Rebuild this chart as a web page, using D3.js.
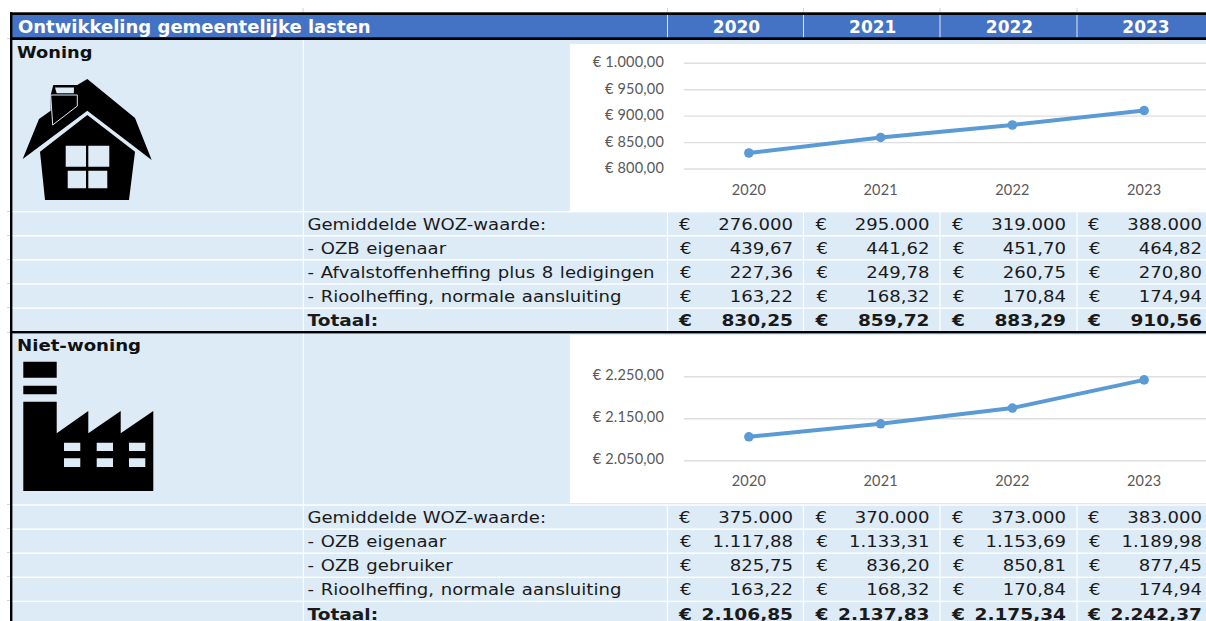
<!DOCTYPE html>
<html>
<head>
<meta charset="utf-8">
<script src="https://cdn.jsdelivr.net/npm/d3@7"></script>
<style>
html, body { margin: 0; padding: 0; background: #fff; overflow: hidden; }
svg { display: block; }
text { font-family: "DejaVu Sans", sans-serif; }
.chart-label { font-family: Lato, sans-serif; font-size: 14.5px; letter-spacing: 0.2px; fill: #595959; }
</style>
</head>
<body>
<svg id="sheet" width="1206" height="621"></svg>
<script>
var years = ['2020', '2021', '2022', '2023'];
var title = 'Ontwikkeling gemeentelijke lasten';

var woning_labels = ['Gemiddelde WOZ-waarde:', '- OZB eigenaar', '- Afvalstoffenheffing plus 8 ledigingen', '- Rioolheffing, normale aansluiting', 'Totaal:'];
var woning_rows = [
    ['276.000', '295.000', '319.000', '388.000'],
    ['439,67', '441,62', '451,70', '464,82'],
    ['227,36', '249,78', '260,75', '270,80'],
    ['163,22', '168,32', '170,84', '174,94'],
    ['830,25', '859,72', '883,29', '910,56']
];
var woning_totals = [830.25, 859.72, 883.29, 910.56];
var woning_ticks = [800, 850, 900, 950, 1000];

var niet_labels = ['Gemiddelde WOZ-waarde:', '- OZB eigenaar', '- OZB gebruiker', '- Rioolheffing, normale aansluiting', 'Totaal:'];
var niet_rows = [
    ['375.000', '370.000', '373.000', '383.000'],
    ['1.117,88', '1.133,31', '1.153,69', '1.189,98'],
    ['825,75', '836,20', '850,81', '877,45'],
    ['163,22', '168,32', '170,84', '174,94'],
    ['2.106,85', '2.137,83', '2.175,34', '2.242,37']
];
var niet_totals = [2106.85, 2137.83, 2175.34, 2242.37];
var niet_ticks = [2050, 2150, 2250];

const svg = d3.select('#sheet');
const blue = '#4472c4';
const pale = '#ddebf7';
const col_lines = [667.5, 803.5, 940, 1077];
const col_right = [793, 929.5, 1066, 1202];
const euro_x = [679, 815.5, 952, 1088];

function rect(x, y, w, h, fill) {
    return svg.append('rect').attr('x', x).attr('y', y).attr('width', w).attr('height', h).attr('fill', fill);
}

// dejavu is narrower than the sheet's font, so stretch the text sideways
function wideText(str, x, y, stretch, size, weight, fill) {
    return svg.append('text').text(str)
        .attr('transform', 'translate(' + x + ',' + y + ') scale(' + stretch + ',1)')
        .attr('font-size', size).attr('font-weight', weight).attr('fill', fill);
}

function nl(v) {
    // 1000 -> 1.000,00
    return '€ ' + d3.format(',.2f')(v).replace(/,/g, '#').replace('.', ',').replace(/#/g, '.');
}

// sheet background
rect(12, 15, 1194, 606, pale);

// stray excel gridline stubs outside the table
[235, 259, 283, 307, 211, 332, 504, 528, 552, 576, 600, 38].forEach(function (y) {
    rect(7, y, 4, 1, '#d4d4d4');
});
[303].concat(col_lines).forEach(function (x) {
    rect(x - 0.5, 8, 1, 5, '#d4d4d4');
});

// header
rect(12, 15, 1194, 23, blue);
wideText(title, 18, 33, 1.06, 17, 700, '#fff');
years.forEach(function (y, i) {
    svg.append('text').text(y)
        .attr('x', (col_lines[i] + (col_lines[i + 1] || 1213)) / 2 + 1).attr('y', 33)
        .attr('text-anchor', 'middle')
        .attr('font-size', 17).attr('font-weight', 700).attr('fill', '#fff');
    rect(col_lines[i] - 0.5, 15, 1, 23, '#dfe7f5');
});

function drawChart(top, bottom, domain, y_range, ticks, totals, tick_y, label_dy) {
    rect(569, top, 640, bottom - top, '#fff');
    rect(569, bottom, 640, 1, '#e3e6ea');
    rect(569, top, 1, bottom - top, '#e9ecef');

    var x = d3.scaleBand().domain(years).range([683, 1210]);
    var y = d3.scaleLinear().domain(domain).range(y_range);

    var ya = svg.append('g').call(d3.axisLeft(y).tickValues(ticks).tickFormat(nl).tickSize(0).tickPadding(19))
        .attr('transform', 'translate(683,' + label_dy + ')');
    ya.select('.domain').remove();
    ya.selectAll('text').attr('class', 'chart-label').attr('fill', null);

    svg.selectAll(null).data(ticks).enter().append('line')
        .attr('x1', 684).attr('x2', 1206)
        .attr('y1', function (d) { return y(d); })
        .attr('y2', function (d) { return y(d); })
        .attr('stroke', '#dedede').attr('stroke-width', 1.4);

    var xa = svg.append('g').call(d3.axisBottom(x).tickSize(0).tickPadding(0))
        .attr('transform', 'translate(0,' + tick_y + ')');
    xa.select('.domain').remove();
    xa.selectAll('text').attr('class', 'chart-label').attr('fill', null);

    var pts = years.map(function (yr, i) { return [x(yr) + x.bandwidth() / 2, y(totals[i])]; });
    svg.append('path')
        .attr('d', d3.line()(pts))
        .attr('fill', 'none').attr('stroke', '#5b9bd5').attr('stroke-width', 4).attr('stroke-linecap', 'round');
    svg.selectAll(null).data(pts).enter().append('circle')
        .attr('cx', function (d) { return d[0]; })
        .attr('cy', function (d) { return d[1]; })
        .attr('r', 4.8).attr('fill', '#5b9bd5');
}

function drawRows(top, labels, rows) {
    var row_h = 24.1;
    rect(12, top, 1194, 1.4, '#fff');
    labels.forEach(function (lab, r) {
        var y = top + r * row_h;
        var is_total = r == labels.length - 1;
        var bold = is_total ? 700 : 400;
        var stretch = is_total ? 1.16 : 1.13;
        if (r > 0) rect(12, y, 1194, 1.4, '#fff');
        wideText(lab, 307.5, y + 18.8, stretch, 16, bold, '#1a1a1a')
            .attr('word-spacing', lab.charAt(0) == '-' ? 0.8 : 0);
        rows[r].forEach(function (val, c) {
            wideText('€', euro_x[c] + (r >= 1 && r < 4 ? 1 : 0), y + 18.8, stretch, 16, bold, '#1a1a1a');
            wideText(val, col_right[c], y + 18.8, stretch, 16, bold, '#1a1a1a')
                .attr('text-anchor', 'end');
        });
    });
    col_lines.forEach(function (x) {
        rect(x - 0.6, top, 1.2, row_h * labels.length, '#fff');
    });
}

// column divider next to the icons
rect(302.8, 40, 1.2, 581, '#fff');

drawChart(44, 211, [800, 1000], [169, 63.3], woning_ticks, woning_totals, 185, -1);
drawChart(335, 503, [2050, 2250], [460.7, 376.7], niet_ticks, niet_totals, 476, -1.5);

drawRows(211, woning_labels, woning_rows);
drawRows(504.3, niet_labels, niet_rows);

// section names
wideText('Woning', 17, 58, 1.08, 16.5, 700, '#111');
wideText('Niet-woning', 17, 351, 1.1, 16.5, 700, '#111');

// house icon
svg.append('path').attr('fill', '#000')
    .attr('d', 'M22.7,159L39,119L50.7,110.7L50.7,95L53.3,85L77.3,85L87.3,79L135,118L151.7,160L87.3,110.7Z');
svg.append('path').attr('fill', '#000')
    .attr('fill-rule', 'evenodd')
    .attr('d', 'M40,151.7L87.3,115L135,151.7L129,200L45,200Z' +
        'M65.7,145.7H86V166.7H65.7Z M88.3,145.7H109.3V166.7H88.3Z M67.7,170.7H86V188.3H67.7Z M88.3,170.7H107.3V188.3H88.3Z');
svg.append('path').attr('fill', 'none').attr('stroke', pale).attr('stroke-width', 1)
    .attr('d', 'M50.7,95L77.3,95L77.3,106L52.7,125Z');
svg.append('path').attr('fill', pale).attr('d', 'M55,87.5H74L73.8,93.3H56.7Z');

// factory icon
svg.append('path').attr('fill', '#000').attr('d', 'M23.3,361.7H56.7V377.7H23.3Z M23.3,385.7H56.7V394.3H23.3Z');
svg.append('path').attr('fill', '#000').attr('fill-rule', 'evenodd')
    .attr('d', 'M23.3,401.7H56.7V433.3L88.3,411V433.3L120.7,411V433.3L153.3,411V491H23.3Z' +
        'M64,442.7H80.3V451H64Z M96.7,442.7H113V451H96.7Z M129,442.7H145.3V451H129Z' +
        'M64,458.3H80.3V467H64Z M96.7,458.3H113V467H96.7Z M129,458.3H145.3V467H129Z');

// black table borders
rect(10, 12.3, 1196, 2.7, '#000');
rect(10, 37.3, 1196, 2.7, '#000');
rect(10, 331, 1196, 2.4, '#000');
rect(10, 12.3, 2.4, 608.7, '#000');
</script>
</body>
</html>
